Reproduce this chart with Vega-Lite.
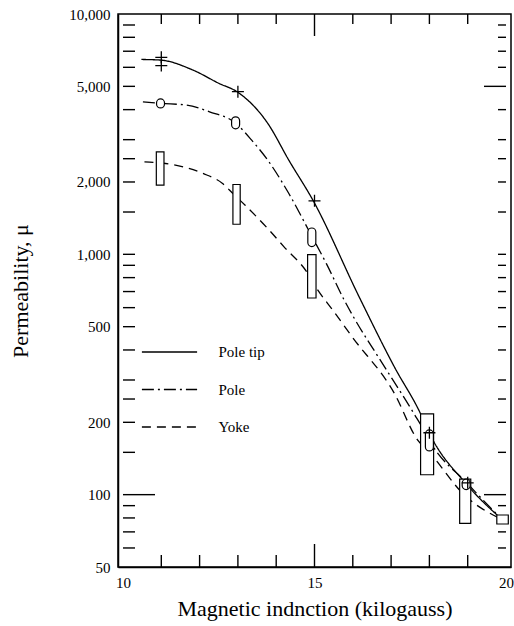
{
  "$schema": "https://vega.github.io/schema/vega-lite/v6.json",
  "width": 393,
  "height": 553,
  "autosize": {"type": "none"},
  "padding": {"left": 118, "top": 14, "right": 3, "bottom": 59},
  "background": "white",
  "config": {
    "view": {"stroke": "black", "strokeWidth": 1.5},
    "font": "Liberation Serif",
    "axis": {
      "domainColor": "black", "domainWidth": 1.5,
      "labelColor": "black", "titleColor": "black",
      "grid": false, "ticks": false,
      "labelFont": "Liberation Serif", "titleFont": "Liberation Serif",
      "labelFontSize": 15, "titleFontSize": 22, "titleFontWeight": "normal"
    },
    "legend": {"padding": 0}
  },
  "datasets": {
    "curves": [
      {"series": "Pole tip", "b": 10.48, "mu": 6470},
      {"series": "Pole tip", "b": 10.98, "mu": 6430},
      {"series": "Pole tip", "b": 11.83, "mu": 5840},
      {"series": "Pole tip", "b": 12.51, "mu": 5140},
      {"series": "Pole tip", "b": 12.98, "mu": 4745},
      {"series": "Pole tip", "b": 13.78, "mu": 3506},
      {"series": "Pole tip", "b": 14.33, "mu": 2464},
      {"series": "Pole tip", "b": 14.97, "mu": 1667},
      {"series": "Pole tip", "b": 16.16, "mu": 668},
      {"series": "Pole tip", "b": 17.09, "mu": 339},
      {"series": "Pole tip", "b": 17.77, "mu": 217},
      {"series": "Pole tip", "b": 18.0, "mu": 180},
      {"series": "Pole tip", "b": 18.96, "mu": 111},
      {"series": "Pole tip", "b": 19.89, "mu": 79},
      {"series": "Pole", "b": 10.52, "mu": 4310},
      {"series": "Pole", "b": 10.98, "mu": 4246},
      {"series": "Pole", "b": 11.66, "mu": 4178},
      {"series": "Pole", "b": 12.26, "mu": 3917},
      {"series": "Pole", "b": 12.93, "mu": 3524},
      {"series": "Pole", "b": 13.36, "mu": 2985},
      {"series": "Pole", "b": 13.78, "mu": 2464},
      {"series": "Pole", "b": 14.33, "mu": 1791},
      {"series": "Pole", "b": 14.93, "mu": 1189},
      {"series": "Pole", "b": 15.31, "mu": 915},
      {"series": "Pole", "b": 15.78, "mu": 643},
      {"series": "Pole", "b": 16.07, "mu": 531},
      {"series": "Pole", "b": 16.67, "mu": 373},
      {"series": "Pole", "b": 17.6, "mu": 217},
      {"series": "Pole", "b": 17.86, "mu": 185},
      {"series": "Pole", "b": 18.0, "mu": 168},
      {"series": "Pole", "b": 19.0, "mu": 111},
      {"series": "Pole", "b": 19.89, "mu": 79},
      {"series": "Yoke", "b": 10.56, "mu": 2424},
      {"series": "Yoke", "b": 11.11, "mu": 2387},
      {"series": "Yoke", "b": 11.58, "mu": 2311},
      {"series": "Yoke", "b": 12.09, "mu": 2170},
      {"series": "Yoke", "b": 12.6, "mu": 1971},
      {"series": "Yoke", "b": 12.87, "mu": 1791},
      {"series": "Yoke", "b": 13.19, "mu": 1600},
      {"series": "Yoke", "b": 13.78, "mu": 1280},
      {"series": "Yoke", "b": 14.21, "mu": 1072},
      {"series": "Yoke", "b": 14.8, "mu": 844},
      {"series": "Yoke", "b": 15.06, "mu": 720},
      {"series": "Yoke", "b": 15.48, "mu": 585},
      {"series": "Yoke", "b": 15.99, "mu": 452},
      {"series": "Yoke", "b": 17.09, "mu": 263},
      {"series": "Yoke", "b": 17.68, "mu": 170},
      {"series": "Yoke", "b": 18.0, "mu": 150},
      {"series": "Yoke", "b": 18.93, "mu": 99},
      {"series": "Yoke", "b": 19.89, "mu": 79}
    ],
    "poletip": [
      {"b": 11, "mu": 6600},
      {"b": 11, "mu": 6100},
      {"b": 13, "mu": 4750},
      {"b": 15, "mu": 1670},
      {"b": 18, "mu": 181},
      {"b": 19, "mu": 112}
    ],
    "pole": [
      {"b": 10.98, "lo": 4066, "hi": 4434},
      {"b": 12.94, "lo": 3327, "hi": 3733},
      {"b": 14.93, "lo": 1077, "hi": 1287},
      {"b": 18.0, "lo": 152, "hi": 186},
      {"b": 18.96, "lo": 105, "hi": 116}
    ],
    "yoke": [
      {"b1": 10.87, "b2": 11.07, "lo": 1939, "hi": 2669},
      {"b1": 12.87, "b2": 13.06, "lo": 1334, "hi": 1952},
      {"b1": 14.82, "b2": 15.04, "lo": 658, "hi": 997},
      {"b1": 17.77, "b2": 18.11, "lo": 121, "hi": 217},
      {"b1": 18.79, "b2": 19.08, "lo": 76, "hi": 116},
      {"b1": 19.76, "b2": 20.06, "lo": 75.5, "hi": 82.3}
    ],
    "ticks_left_minor": [
      {"v": 60}, {"v": 70}, {"v": 80}, {"v": 90}, {"v": 150},
      {"v": 200}, {"v": 250}, {"v": 300}, {"v": 400}, {"v": 500}, {"v": 600},
      {"v": 700}, {"v": 800}, {"v": 900}, {"v": 1000}, {"v": 1500}, {"v": 2000},
      {"v": 2500}, {"v": 3000}, {"v": 4000}, {"v": 5000}, {"v": 6000}, {"v": 7000},
      {"v": 8000}, {"v": 9000}
    ],
    "ticks_left_major": [{"v": 100}],
    "ticks_right_minor": [
      {"v": 60}, {"v": 70}, {"v": 80}, {"v": 90}, {"v": 150},
      {"v": 200}, {"v": 250}, {"v": 300}, {"v": 400}, {"v": 500}, {"v": 600},
      {"v": 700}, {"v": 800}, {"v": 900}, {"v": 1000}, {"v": 1500}, {"v": 2000},
      {"v": 2500}, {"v": 3000}, {"v": 4000}, {"v": 6000}, {"v": 7000},
      {"v": 8000}, {"v": 9000}
    ],
    "ticks_right_major": [{"v": 100}, {"v": 5000}],
    "ticks_bottom_minor": [
      {"v": 11}, {"v": 12}, {"v": 13}, {"v": 14}, {"v": 16}, {"v": 17}, {"v": 18}, {"v": 19}
    ],
    "ticks_bottom_major": [{"v": 15}],
    "ticks_top_minor": [
      {"v": 11}, {"v": 12}, {"v": 13}, {"v": 14}, {"v": 16}, {"v": 17}, {"v": 18}, {"v": 19}
    ],
    "ticks_top_major": [{"v": 15}]
  },
  "layer": [
    {
      "data": {"name": "curves"},
      "mark": {"type": "line", "color": "black", "strokeWidth": 1.3, "interpolate": "monotone"},
      "encoding": {
        "x": {
          "field": "b", "type": "quantitative",
          "scale": {"domain": [10, 20], "nice": false},
          "axis": {
            "orient": "bottom",
            "values": [10, 15, 20],
            "format": "d",
            "labelPadding": 8,
            "labelOverlap": false,
            "labelFlush": false,
            "title": "Magnetic indnction (kilogauss)",
            "titlePadding": 8
          }
        },
        "y": {
          "field": "mu", "type": "quantitative",
          "scale": {"type": "log", "domain": [50, 10000], "nice": false},
          "axis": {
            "orient": "left",
            "values": [50, 100, 200, 500, 1000, 2000, 5000, 10000],
            "format": ",",
            "labelPadding": 8,
            "labelOverlap": false,
            "labelFlush": false,
            "title": "Permeability, μ",
            "titlePadding": 36
          }
        },
        "strokeDash": {
          "field": "series", "type": "nominal",
          "scale": {"domain": ["Pole tip", "Pole", "Yoke"], "range": [[1, 0], [12, 4, 2, 4], [9, 6]]},
          "legend": {
            "orient": "none",
            "legendX": 44,
            "legendY": 330.5,
            "title": null,
            "symbolType": "M-6.9,0H6.9",
            "symbolSize": 64,
            "symbolStrokeColor": "black",
            "symbolStrokeWidth": 1.3,
            "labelFont": "Liberation Serif",
            "labelFontSize": 15,
            "labelColor": "black",
            "labelOffset": 41.5,
            "rowPadding": 21.5
          }
        }
      }
    },
    {
      "data": {"name": "ticks_left_minor"},
      "mark": {"type": "tick", "orient": "horizontal", "size": 12, "thickness": 1.4, "xOffset": 6, "color": "black", "opacity": 1},
      "encoding": {
        "x": {"datum": 10, "type": "quantitative"},
        "y": {"field": "v", "type": "quantitative"}
      }
    },
    {
      "data": {"name": "ticks_left_major"},
      "mark": {"type": "tick", "orient": "horizontal", "size": 32, "thickness": 1.4, "xOffset": 16, "color": "black", "opacity": 1},
      "encoding": {
        "x": {"datum": 10, "type": "quantitative"},
        "y": {"field": "v", "type": "quantitative"}
      }
    },
    {
      "data": {"name": "ticks_right_minor"},
      "mark": {"type": "tick", "orient": "horizontal", "size": 8, "thickness": 1.4, "xOffset": -4, "color": "black", "opacity": 1},
      "encoding": {
        "x": {"datum": 20, "type": "quantitative"},
        "y": {"field": "v", "type": "quantitative"}
      }
    },
    {
      "data": {"name": "ticks_right_major"},
      "mark": {"type": "tick", "orient": "horizontal", "size": 22, "thickness": 1.4, "xOffset": -11, "color": "black", "opacity": 1},
      "encoding": {
        "x": {"datum": 20, "type": "quantitative"},
        "y": {"field": "v", "type": "quantitative"}
      }
    },
    {
      "data": {"name": "ticks_bottom_minor"},
      "mark": {"type": "tick", "orient": "vertical", "size": 12, "thickness": 1.4, "yOffset": -6, "color": "black", "opacity": 1},
      "encoding": {
        "x": {"field": "v", "type": "quantitative"},
        "y": {"datum": 50, "type": "quantitative"}
      }
    },
    {
      "data": {"name": "ticks_bottom_major"},
      "mark": {"type": "tick", "orient": "vertical", "size": 23, "thickness": 1.4, "yOffset": -11.5, "color": "black", "opacity": 1},
      "encoding": {
        "x": {"field": "v", "type": "quantitative"},
        "y": {"datum": 50, "type": "quantitative"}
      }
    },
    {
      "data": {"name": "ticks_top_minor"},
      "mark": {"type": "tick", "orient": "vertical", "size": 10, "thickness": 1.4, "yOffset": 5, "color": "black", "opacity": 1},
      "encoding": {
        "x": {"field": "v", "type": "quantitative"},
        "y": {"datum": 10000, "type": "quantitative"}
      }
    },
    {
      "data": {"name": "ticks_top_major"},
      "mark": {"type": "tick", "orient": "vertical", "size": 22, "thickness": 1.4, "yOffset": 11, "color": "black", "opacity": 1},
      "encoding": {
        "x": {"field": "v", "type": "quantitative"},
        "y": {"datum": 10000, "type": "quantitative"}
      }
    },
    {
      "data": {"name": "yoke"},
      "mark": {"type": "rect", "fill": "white", "stroke": "black", "strokeWidth": 1.2},
      "encoding": {
        "x": {"field": "b1", "type": "quantitative"},
        "x2": {"field": "b2"},
        "y": {"field": "lo", "type": "quantitative"},
        "y2": {"field": "hi"}
      }
    },
    {
      "data": {"name": "pole"},
      "mark": {"type": "bar", "size": 8, "cornerRadius": 4, "fill": "white", "stroke": "black", "strokeWidth": 1.2},
      "encoding": {
        "x": {"field": "b", "type": "quantitative"},
        "y": {"field": "lo", "type": "quantitative"},
        "y2": {"field": "hi"}
      }
    },
    {
      "data": {"name": "poletip"},
      "mark": {"type": "point", "shape": "M-1,0H1M0,-1V1", "size": 144, "filled": false, "color": "black", "strokeWidth": 1.3, "opacity": 1},
      "encoding": {
        "x": {"field": "b", "type": "quantitative"},
        "y": {"field": "mu", "type": "quantitative"}
      }
    }
  ]
}
